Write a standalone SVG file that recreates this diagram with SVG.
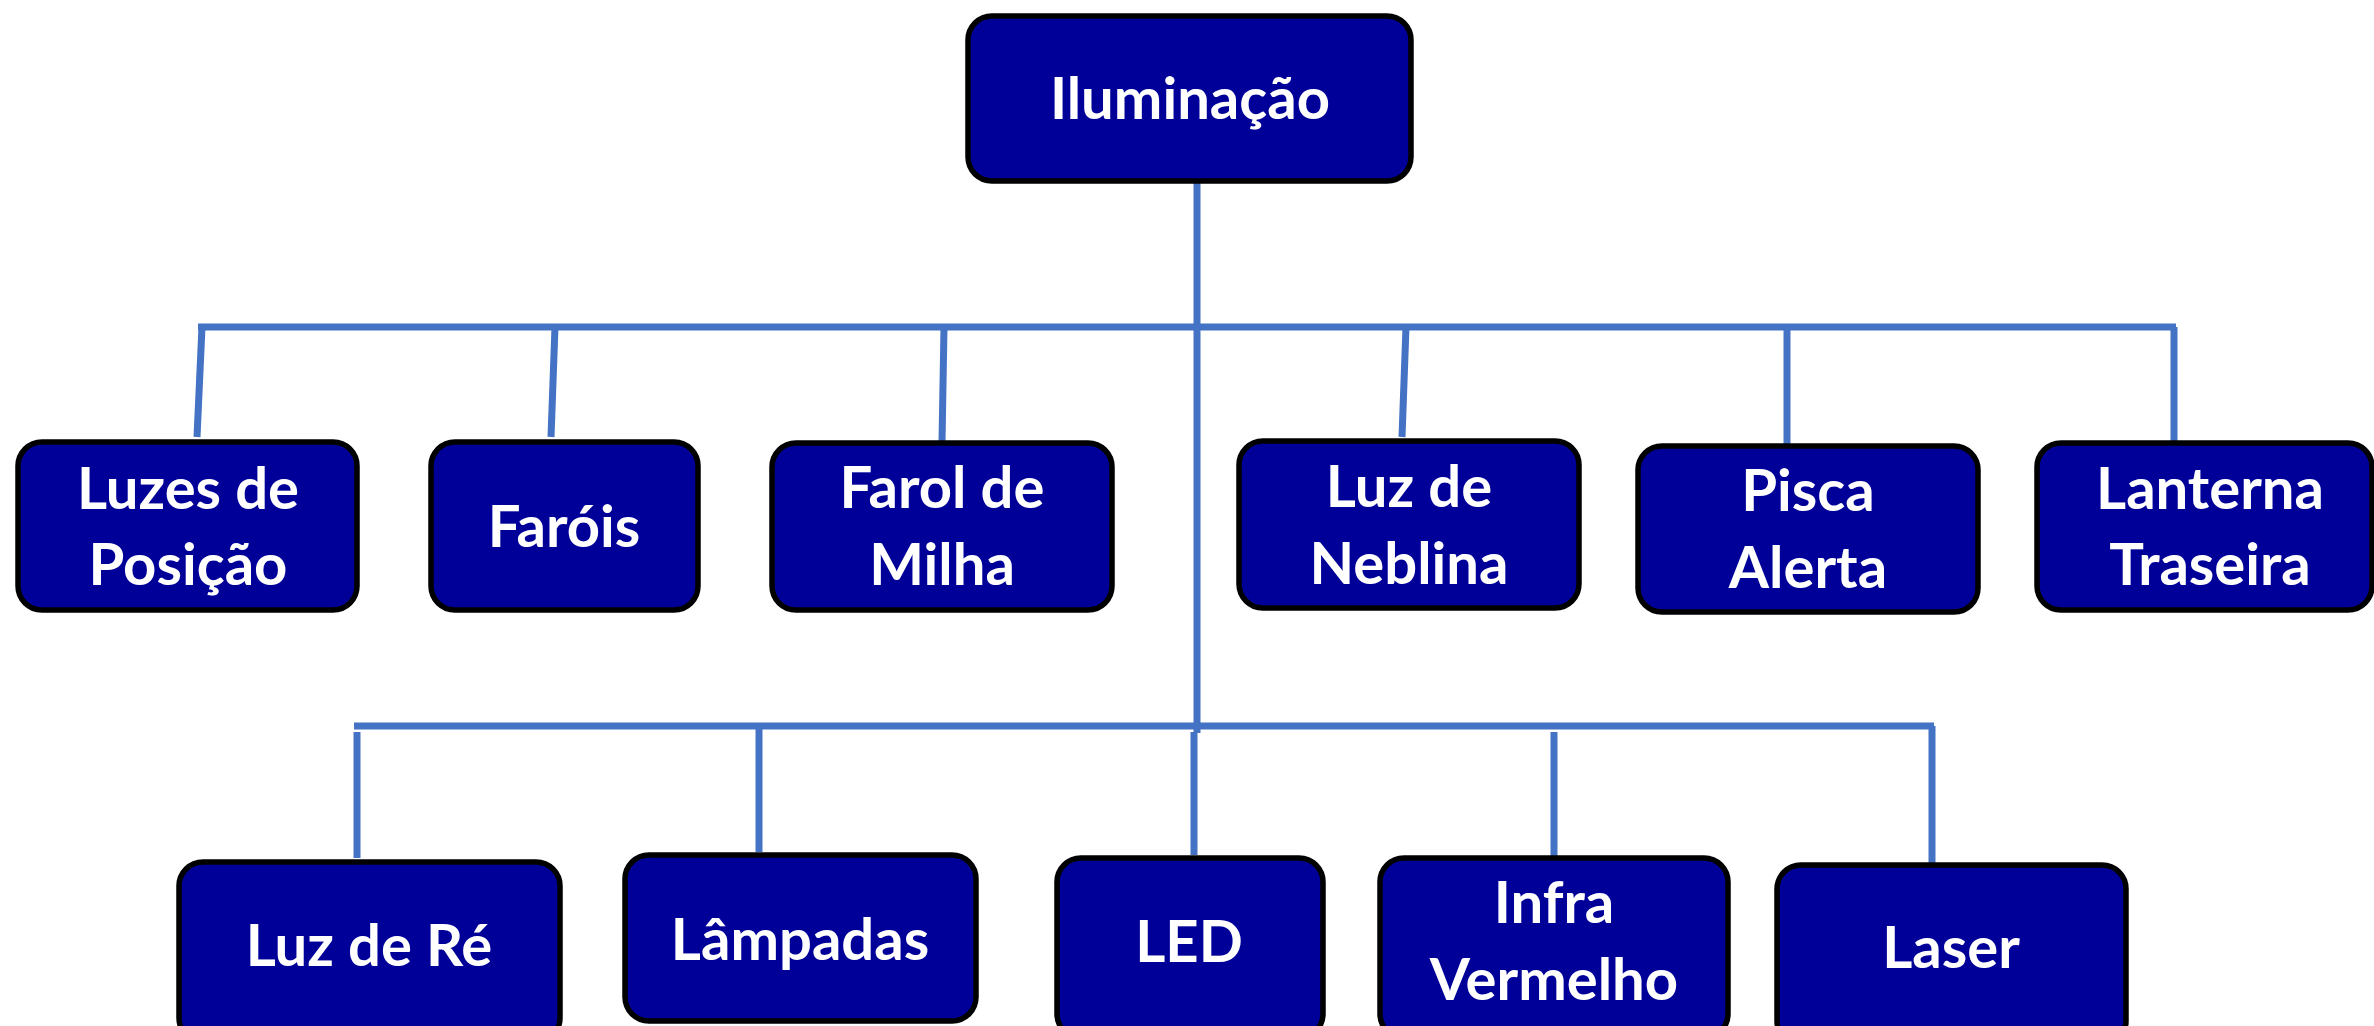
<svg xmlns="http://www.w3.org/2000/svg" width="2374" height="1026" viewBox="0 0 2374 1026">
<style>
.box{fill:#000099;stroke:#000;stroke-width:5.5}
.t{font-family:Lato,"Open Sans",sans-serif;font-weight:bold;font-size:58px;fill:#fff;text-anchor:middle}
.c{stroke:#4472C4;stroke-width:7;fill:none}
</style>
<rect width="2374" height="1026" fill="#fff"/>
<g id="connectors">
<path class="c" d="M1197 182 V733"/>
<path class="c" d="M198 327 H2176 M2174 327 V445"/>
<path class="c" d="M202 327 L197 437"/>
<path class="c" d="M555 327 L551 437"/>
<path class="c" d="M944 327 L942 442"/>
<path class="c" d="M1406 327 L1402 437"/>
<path class="c" d="M1787 327 V445"/>
<path class="c" d="M354 726 H1934 M1932 726 V863"/>
<path class="c" d="M357 732 V858"/>
<path class="c" d="M759 726 V852"/>
<path class="c" d="M1194 732 V855"/>
<path class="c" d="M1554 732 V857"/>
</g>
<g id="n-root"><rect class="box" x="968" y="16" width="443" height="165" rx="24"/><text class="t" x="1190" y="119">Iluminação</text></g>
<g id="n-luzes"><rect class="box" x="18" y="442" width="339" height="168" rx="24"/><text class="t" x="188" y="509">Luzes de</text><text class="t" x="188" y="585">Posição</text></g>
<g id="n-farois"><rect class="box" x="431" y="442" width="267" height="168" rx="24"/><text class="t" x="564" y="547">Faróis</text></g>
<g id="n-milha"><rect class="box" x="772" y="443" width="340" height="167" rx="24"/><text class="t" x="942" y="508">Farol de</text><text class="t" x="942" y="585">Milha</text></g>
<g id="n-neblina"><rect class="box" x="1239" y="441" width="340" height="167" rx="24"/><text class="t" x="1409" y="507">Luz de</text><text class="t" x="1409" y="584">Neblina</text></g>
<g id="n-pisca"><rect class="box" x="1638" y="446" width="340" height="166" rx="24"/><text class="t" x="1808" y="511">Pisca</text><text class="t" x="1808" y="588">Alerta</text></g>
<g id="n-lanterna"><rect class="box" x="2037" y="443" width="335" height="167" rx="24"/><text class="t" x="2210" y="509">Lanterna</text><text class="t" x="2210" y="585">Traseira</text></g>
<g id="n-re"><rect class="box" x="179" y="862" width="381" height="180" rx="24"/><text class="t" x="369" y="966">Luz de Ré</text></g>
<g id="n-lampadas"><rect class="box" x="625" y="855" width="351" height="166" rx="24"/><text class="t" x="800" y="960">Lâmpadas</text></g>
<g id="n-led"><rect class="box" x="1057" y="858" width="266" height="180" rx="24"/><text class="t" x="1189" y="962">LED</text></g>
<g id="n-infra"><rect class="box" x="1380" y="858" width="348" height="180" rx="24"/><text class="t" x="1554" y="923">Infra</text><text class="t" x="1554" y="1000">Vermelho</text></g>
<g id="n-laser"><rect class="box" x="1777" y="865" width="349" height="180" rx="24"/><text class="t" x="1951" y="968">Laser</text></g>
</svg>
